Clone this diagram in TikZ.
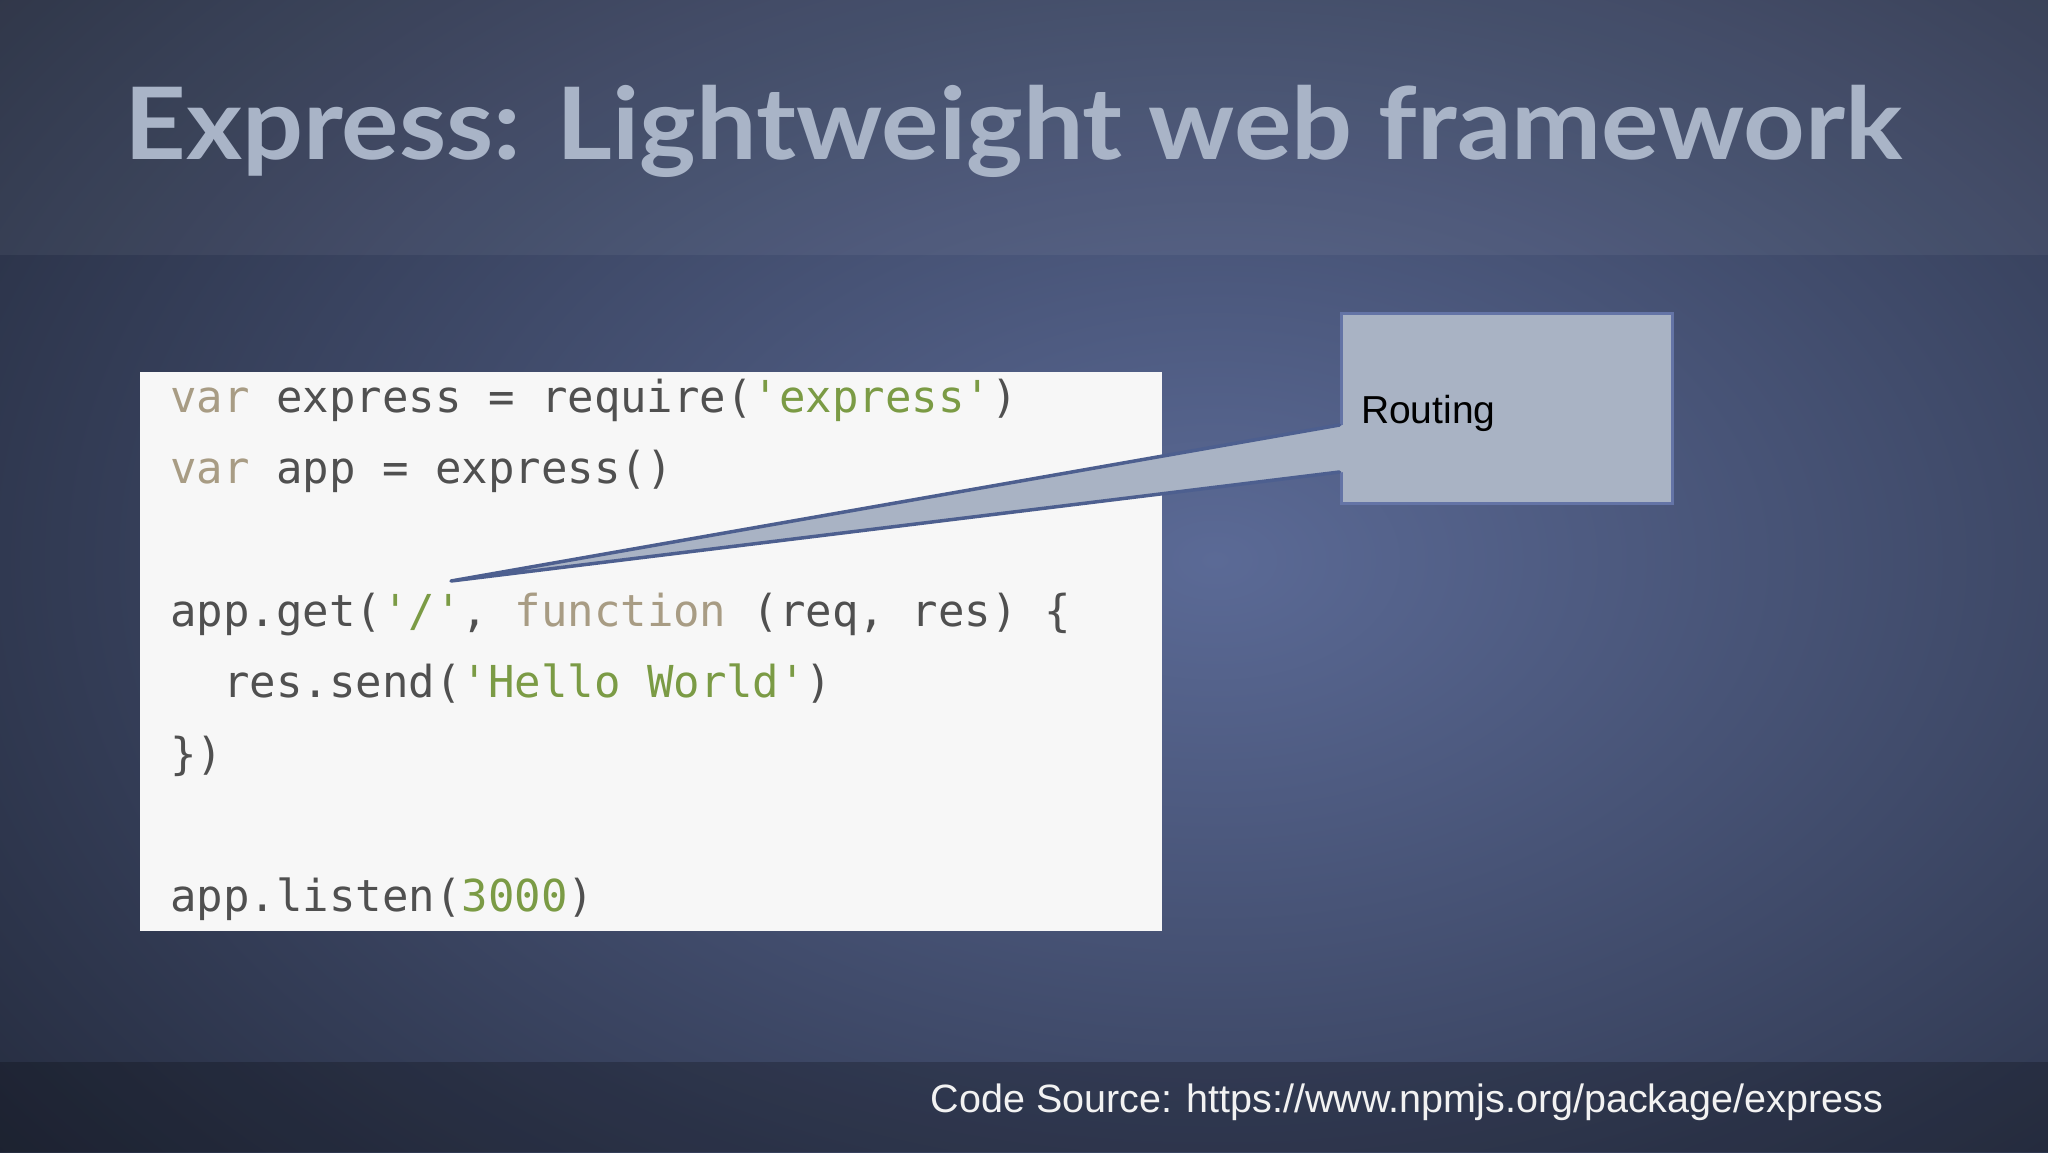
\documentclass[tikz,border=0pt]{standalone}
\usepackage{fontspec}
\setmainfont{Liberation Sans}
\newfontfamily\titlefont[FakeStretch=1.075]{Lato}
\newfontfamily\codefont[Ligatures=TeXOff]{DejaVu Sans Mono}
\usetikzlibrary{positioning}

\definecolor{bgin}{HTML}{5B6A96}
\definecolor{bgout}{HTML}{1F2535}
\definecolor{titlegrey}{HTML}{A9B4C7}
\definecolor{codegrey}{HTML}{505050}
\definecolor{codekw}{HTML}{A89C84}
\definecolor{codestr}{HTML}{7B9B45}
\definecolor{callfill}{HTML}{A9B3C4}
\definecolor{callborder}{HTML}{6474A6}
\definecolor{wedgeblue}{HTML}{4D5F8F}

\newcommand{\kw}[1]{\textcolor{codekw}{#1}}
\newcommand{\strg}[1]{\textcolor{codestr}{#1}}

\tikzset{
  codeline/.style={anchor=base west, inner sep=0pt, text=codegrey,
    font=\codefont\fontsize{44}{44}\selectfont},
  codebox/.style={rectangle, fill=white!97!black, draw=none,
    minimum width=1022pt, minimum height=559pt},
  callbox/.style={rectangle, fill=callfill, draw=callborder, line width=3pt,
    minimum width=331pt, minimum height=190pt, text width=291pt, align=left,
    inner xsep=20pt, text height=30pt, text depth=0pt,
    font=\fontsize{39}{39}\selectfont},
}

\begin{document}
\begin{tikzpicture}[x=1pt, y=-1pt]
  \useasboundingbox (0,0) rectangle (2048,1152);
  % background
  \begin{scope}
    \clip (0,0) rectangle (2048,1152);
    \shade[inner color=bgin, outer color=bgout] (-485,-540) rectangle (2915,1660);
    \fill[white, opacity=0.05] (0,0) rectangle (2048,255);
    \fill[black, opacity=0.22] (0,1062) rectangle (2048,1152);
  \end{scope}

  \node[anchor=base west, inner sep=0pt, text=titlegrey,
    font=\titlefont\bfseries\fontsize{100}{100}\selectfont] (title) at (124,159)
    {Express: Lightweight web framework};

  % code
  \node[codebox] (code) at (651,651.5) {};
  \node[codeline] (l1) at (170,412) {\kw{var} express = require(\strg{'express'})};
  \node[codeline] (l2) at (170,483.4) {\kw{var} app = express()};
  \node[codeline] (l4) at (170,626.2) {app.get(\strg{'/'}, \kw{function} (req, res) \{};
  \node[codeline] (l5) at (223,697.6) {res.send(\strg{'Hello World'})};
  \node[codeline] (l6) at (170,769) {\})};
  \node[codeline] (l8) at (170,911.8) {app.listen(\strg{3000})};

  % callout
  \node[callbox] (routing) at (1506.5,408) {Routing};
  \coordinate (tip) at (451,581);
  \fill[callfill] (tip) -- ([xshift=4pt,yshift=-17pt]routing.west)
    -- ([xshift=4pt,yshift=-64pt]routing.west) -- cycle;
  \draw[wedgeblue, line width=3.5pt, line cap=round, line join=round]
    ([yshift=-17pt]routing.west) -- (tip) -- ([yshift=-64pt]routing.west);

  \node[anchor=base east, inner sep=0pt, text=white!95!black,
    font=\fontsize{39.5}{39.5}\selectfont] (source) at (1883,1112)
    {Code Source: https://www.npmjs.org/package/express};
\end{tikzpicture}
\end{document}
